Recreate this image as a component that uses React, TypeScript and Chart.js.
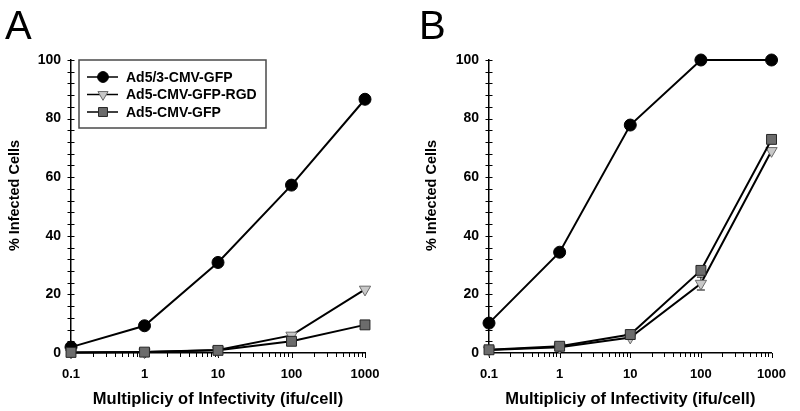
import React, { useEffect, useRef } from 'react';
import { Chart, registerables } from 'chart.js';

Chart.register(...registerables);

// ---- data ----
const MOI = [0.1, 1, 10, 100, 1000];
const X_MAJOR_TICKS = [0.1, 1, 10, 100, 1000];
const X_MINOR_MULTIPLIERS = [2, 3, 4, 5, 6, 7, 8, 9];
const Y_LABEL_TICKS = [0, 20, 40, 60, 80, 100];
const Y_MINOR_STEP = 4;

const SERIES_NAMES = ['Ad5/3-CMV-GFP', 'Ad5-CMV-GFP-RGD', 'Ad5-CMV-GFP'];

const A_AD53 = [2.0, 9.3, 30.9, 57.3, 86.6];
const A_RGD = [0.2, 0.3, 1.0, 6.0, 21.7];
const A_CMV = [0.2, 0.3, 0.9, 4.0, 9.6];

const B_AD53 = [10.2, 34.4, 77.8, 100, 100];
const B_RGD = [1.0, 2.0, 5.3, 23.7, 69.0];
const B_CMV = [1.1, 2.3, 6.3, 28.2, 72.9];
const B_RGD_ERR = [0, 0, 0, 2.2, 0];

const X_TITLE = 'Multipliciy of Infectivity (ifu/cell)';
const Y_TITLE = '% Infected Cells';

const FONT = '"Liberation Sans", Arial, Helvetica, sans-serif';

const STYLES = [
  { pointStyle: 'circle', pointRadius: 6, rotation: 0, bg: '#000000', border: '#000000', bw: 1 },
  { pointStyle: 'triangle', pointRadius: 6.5, rotation: 180, bg: '#c8c8c8', border: '#6a6a6a', bw: 1 },
  { pointStyle: 'rect', pointRadius: 7, rotation: 0, bg: '#6c6c6c', border: '#262626', bw: 1 },
];

function makeDatasets(series: number[][], errors: (number[] | null)[]) {
  return series.map((vals, i) => ({
    label: SERIES_NAMES[i],
    data: vals.map((v, j) => ({ x: MOI[j], y: v })),
    errs: errors[i],
    borderColor: '#000000',
    borderWidth: 2,
    tension: 0,
    fill: false,
    pointStyle: STYLES[i].pointStyle,
    pointRadius: STYLES[i].pointRadius,
    pointRotation: STYLES[i].rotation,
    pointBackgroundColor: STYLES[i].bg,
    pointBorderColor: STYLES[i].border,
    pointBorderWidth: STYLES[i].bw,
    clip: false,
    order: 2 - i,
  }));
}

const axisTicksPlugin = {
  id: 'axisTicks',
  beforeDatasetsDraw(chart: any) {
    const { ctx, scales } = chart;
    const x = scales.x;
    const y = scales.y;
    const ax = x.left;
    const ay = y.bottom;
    ctx.save();
    ctx.strokeStyle = '#000';
    ctx.lineWidth = 1;
    ctx.beginPath();
    for (let v = y.min; v <= y.max + 0.001; v += Y_MINOR_STEP) {
      const py = Math.round(y.getPixelForValue(v)) + 0.5;
      ctx.moveTo(ax - 3.5, py);
      ctx.lineTo(ax + 3.5, py);
    }
    X_MAJOR_TICKS.forEach((m, i) => {
      const px = Math.round(x.getPixelForValue(m)) + 0.5;
      ctx.moveTo(px, ay);
      ctx.lineTo(px, ay + 5);
      if (i < X_MAJOR_TICKS.length - 1) {
        X_MINOR_MULTIPLIERS.forEach((k) => {
          const qx = Math.round(x.getPixelForValue(m * k)) + 0.5;
          ctx.moveTo(qx, ay);
          ctx.lineTo(qx, ay + 4);
        });
      }
    });
    ctx.stroke();
    // error bars
    chart.data.datasets.forEach((ds: any) => {
      if (!ds.errs) return;
      ds.data.forEach((p: any, j: number) => {
        const e = ds.errs[j];
        if (!e) return;
        const px = x.getPixelForValue(p.x);
        const y1 = y.getPixelForValue(p.y - e);
        const y2 = y.getPixelForValue(p.y + e);
        ctx.beginPath();
        ctx.moveTo(px, y1);
        ctx.lineTo(px, y2);
        ctx.moveTo(px - 4, y1);
        ctx.lineTo(px + 4, y1);
        ctx.moveTo(px - 4, y2);
        ctx.lineTo(px + 4, y2);
        ctx.stroke();
      });
    });
    ctx.restore();
  },
  afterDraw(chart: any, _args: any, opts: any) {
    // vertical axis title, placed like the reference (slightly above centre)
    const { ctx, chartArea } = chart;
    ctx.save();
    ctx.translate(opts.titleX, (chartArea.top + chartArea.bottom) / 2 - 11);
    ctx.rotate(-Math.PI / 2);
    ctx.fillStyle = '#000';
    ctx.font = `bold 14.5px ${FONT}`;
    ctx.textAlign = 'center';
    ctx.textBaseline = 'middle';
    ctx.fillText(Y_TITLE, 0, 0);
    ctx.restore();
  },
};

function drawMarker(ctx: CanvasRenderingContext2D, style: string, x: number, y: number, r: number, rot: number) {
  ctx.beginPath();
  if (style === 'circle') {
    ctx.arc(x, y, r, 0, Math.PI * 2);
  } else if (style === 'rect') {
    const s = Math.SQRT1_2 * r;
    ctx.rect(x - s, y - s, 2 * s, 2 * s);
  } else if (style === 'triangle') {
    const down = rot === 180;
    const base = down ? -r / 2 : r / 2;
    ctx.moveTo(x - r * 0.866, y + base);
    ctx.lineTo(x + r * 0.866, y + base);
    ctx.lineTo(x, y + (down ? r : -r));
    ctx.closePath();
  }
  ctx.fill();
  ctx.stroke();
}

const boxLegendPlugin = {
  id: 'boxLegend',
  afterDraw(chart: any, _args: any, opts: any) {
    if (!opts || !opts.show) return;
    const { ctx, chartArea } = chart;
    const bx = chartArea.left + 8;
    const by = chartArea.top;
    const bw = 187;
    const bh = 68;
    ctx.save();
    ctx.fillStyle = '#ffffff';
    ctx.fillRect(bx, by, bw, bh);
    ctx.strokeStyle = '#4a4a4a';
    ctx.lineWidth = 1.5;
    ctx.strokeRect(bx, by, bw, bh);
    chart.data.datasets.forEach((ds: any, i: number) => {
      const ry = by + 17 + i * 17.5;
      ctx.strokeStyle = '#000';
      ctx.lineWidth = 1.5;
      ctx.beginPath();
      ctx.moveTo(bx + 8, ry);
      ctx.lineTo(bx + 39, ry);
      ctx.stroke();
      ctx.fillStyle = ds.pointBackgroundColor;
      ctx.strokeStyle = ds.pointBorderColor;
      ctx.lineWidth = ds.pointBorderWidth;
      drawMarker(ctx, ds.pointStyle, bx + 24, ry, ds.pointRadius * 0.9, ds.pointRotation);
      ctx.fillStyle = '#000';
      ctx.font = `bold 14px ${FONT}`;
      ctx.textBaseline = 'middle';
      ctx.textAlign = 'left';
      ctx.fillText(ds.label, bx + 47, ry + 1);
    });
    ctx.restore();
  },
};

Chart.register(axisTicksPlugin as any, boxLegendPlugin as any);

function makeConfig(series: number[][], errors: (number[] | null)[], yWidth: number, rightPad: number, titleX: number, showLegend: boolean): any {
  return {
    type: 'line',
    data: { datasets: makeDatasets(series, errors) },
    options: {
      responsive: false,
      animation: false,
      devicePixelRatio: 1,
      layout: { padding: { top: 60, right: rightPad, left: 0, bottom: 0 } },
      plugins: {
        legend: { display: false },
        tooltip: { enabled: false },
        title: { display: false },
        boxLegend: { show: showLegend },
        axisTicks: { titleX },
      },
      scales: {
        x: {
          type: 'logarithmic',
          min: 0.1,
          max: 1000,
          afterBuildTicks: (scale: any) => {
            scale.ticks = X_MAJOR_TICKS.map((v) => ({ value: v }));
          },
          afterFit: (scale: any) => {
            scale.height = 58;
          },
          grid: { display: false, drawTicks: false },
          border: { display: true, color: '#000', width: 1.5 },
          ticks: {
            autoSkip: false,
            maxRotation: 0,
            padding: 14,
            color: '#000',
            font: { family: FONT, size: 13, weight: 'bold' },
            callback: (v: any) => String(v),
          },
          title: {
            display: true,
            text: X_TITLE,
            color: '#000',
            font: { family: FONT, size: 16.5, weight: 'bold' },
            padding: { top: 0, bottom: 1.5 },
          },
        },
        y: {
          type: 'linear',
          min: 0,
          max: 100,
          afterBuildTicks: (scale: any) => {
            scale.ticks = Y_LABEL_TICKS.map((v) => ({ value: v }));
          },
          afterFit: (scale: any) => {
            scale.width = yWidth;
          },
          grid: { display: false, drawTicks: false },
          border: { display: true, color: '#000', width: 1.5 },
          ticks: {
            padding: 10,
            color: '#000',
            font: { family: FONT, size: 14, weight: 'bold' },
          },
          title: { display: false },
        },
      },
    },
  };
}

function Panel(props: { series: number[][]; errors: (number[] | null)[]; yWidth: number; rightPad: number; titleX: number; legend: boolean }) {
  const ref = useRef<HTMLCanvasElement | null>(null);
  useEffect(() => {
    if (!ref.current) return;
    const chart = new Chart(ref.current, makeConfig(props.series, props.errors, props.yWidth, props.rightPad, props.titleX, props.legend));
    return () => chart.destroy();
  }, []);
  return <canvas ref={ref} width={400} height={411} style={{ width: 400, height: 411, display: 'block' }} />;
}

export default function App() {
  const letter: React.CSSProperties = {
    position: 'absolute',
    top: 5,
    fontFamily: FONT,
    fontSize: 40,
    lineHeight: '40px',
    color: '#000',
  };
  return (
    <div style={{ position: 'fixed', left: 0, top: 0, width: 800, height: 411, background: '#fff' }}>
      <div style={{ position: 'absolute', left: 0, top: 0 }}>
        <Panel series={[A_AD53, A_RGD, A_CMV]} errors={[null, null, null]} yWidth={71} rightPad={35} titleX={15} legend={true} />
      </div>
      <div style={{ position: 'absolute', left: 400, top: 0 }}>
        <Panel series={[B_AD53, B_RGD, B_CMV]} errors={[null, B_RGD_ERR, null]} yWidth={89} rightPad={17} titleX={32} legend={false} />
      </div>
      <div style={{ ...letter, left: 5 }}>A</div>
      <div style={{ ...letter, left: 419 }}>B</div>
    </div>
  );
}
